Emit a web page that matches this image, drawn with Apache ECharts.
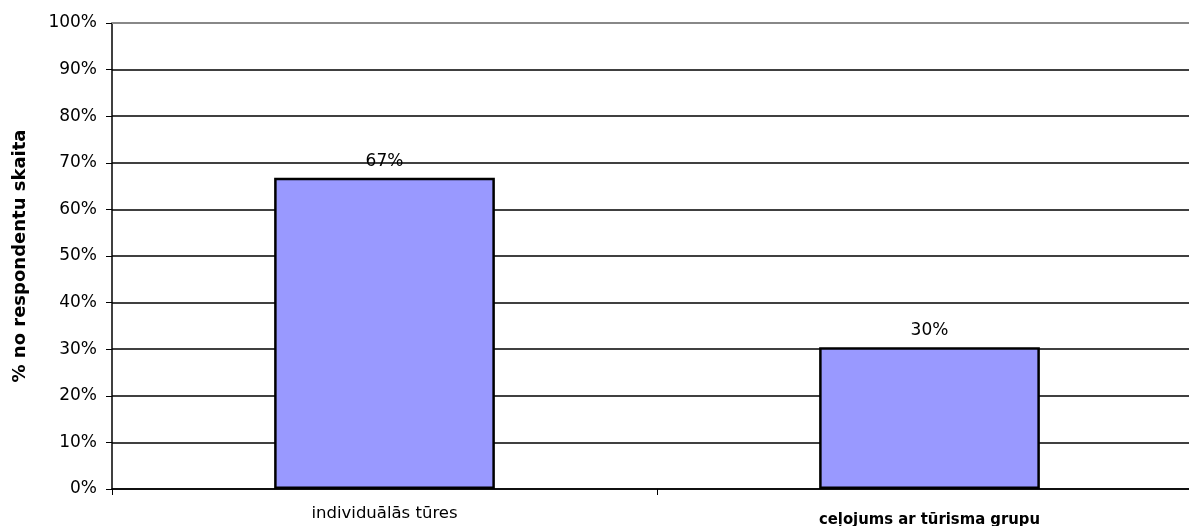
<!DOCTYPE html>
<html><head><meta charset="utf-8">
<script src="https://cdn.jsdelivr.net/npm/echarts@6/dist/echarts.min.js"></script>
<style>html,body{margin:0;padding:0;background:#fff;overflow:hidden;width:1189px;height:526px}#c{width:1202px;height:526px}</style>
</head><body><div id="c"></div>
<script>
const categories = ['individuālās tūres', 'ceļojums ar tūrisma grupu'];
const values = [66.8, 30.4];
const yTicks = [0, 10, 20, 30, 40, 50, 60, 70, 80, 90, 100];
const yAxisTitle = '% no respondentu skaita';

const chart = echarts.init(document.getElementById('c'));
chart.setOption({
  animation: false,
  grid: { left: 112, right: 0, top: 23, bottom: 37, containLabel: false, outerBoundsMode: 'none' },
  xAxis: {
    type: 'category', data: categories,
    axisLine: { lineStyle: { color: '#000', width: 1.5 } },
    axisTick: { show: true, length: 6, lineStyle: { color: '#000' } },
    axisLabel: {
      margin: 16, fontFamily: 'DejaVu Sans', color: '#000',
      formatter: (v, i) => i === 1 ? '{b|' + v + '}' : '{n|' + v + '}',
      rich: {
        n: { fontFamily: 'DejaVu Sans', fontSize: 16.5, color: '#000' },
        b: { fontFamily: 'DejaVu Sans Condensed', fontSize: 16.5, fontWeight: 'bold', color: '#000', padding: [6, 0, 0, 0] }
      }
    }
  },
  yAxis: {
    type: 'value', min: yTicks[0], max: yTicks[yTicks.length - 1], interval: 10,
    name: yAxisTitle, nameLocation: 'middle', nameGap: 75, nameRotate: 90,
    nameTextStyle: { fontFamily: 'DejaVu Sans', fontSize: 18, fontWeight: 'bold', color: '#000', padding: [0, 0, 8, 0] },
    axisLine: { show: true, lineStyle: { color: '#000', width: 1.5 } },
    axisTick: { show: true, length: 6, lineStyle: { color: '#000' } },
    axisLabel: { fontFamily: 'DejaVu Sans', fontSize: 17, color: '#000', margin: 15, formatter: '{value}%' },
    splitLine: { lineStyle: { color: '#000', width: 1.5 } }
  },
  series: [{
    type: 'bar', data: values, barWidth: '40.5%',
    itemStyle: { color: '#9999FF', borderColor: '#000', borderWidth: 2.5 },
    label: {
      show: true, position: 'top', distance: 8,
      fontFamily: 'DejaVu Sans', fontSize: 17, color: '#000',
      formatter: p => Math.round(p.value) + '%'
    }
  }],
  graphic: [{
    type: 'line', shape: { x1: 112, y1: 23, x2: 1202, y2: 23 },
    style: { stroke: '#888', lineWidth: 2 }, z: 10
  }]
});
</script></body></html>
